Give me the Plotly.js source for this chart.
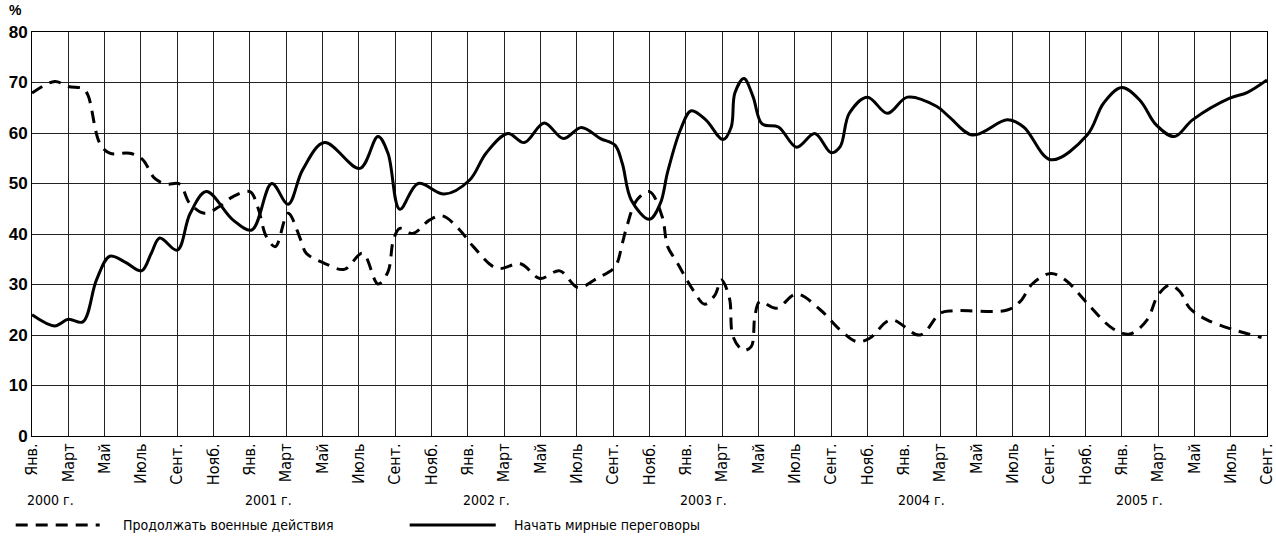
<!DOCTYPE html>
<html>
<head>
<meta charset="utf-8">
<script src="https://cdn.plot.ly/plotly-3.0.1.min.js"></script>
<style>html,body{margin:0;padding:0;background:#fff;}#chart{width:1276px;height:543px;}</style>
</head>
<body>
<div id="chart"></div>
<script>
// month index: 0 = Jan 2000 ... 68 = Sep 2005
var tickMonths = [0,2,4,6,8,10,12,14,16,18,20,22,24,26,28,30,32,34,36,38,40,42,44,46,48,50,52,54,56,58,60,62,64,66,68];
var tickLabels = ["Янв.","Март","Май","Июль","Сент.","Нояб.",
                  "Янв.","Март","Май","Июль","Сент.","Нояб.",
                  "Янв.","Март","Май","Июль","Сент.","Нояб.",
                  "Янв.","Март","Май","Июль","Сент.","Нояб.",
                  "Янв.","Март","Май","Июль","Сент.","Нояб.",
                  "Янв.","Март","Май","Июль","Сент."];
var yearLabels = ["2000 г.","2001 г.","2002 г.","2003 г.","2004 г.","2005 г."];
var yearMonths = [1,13,25,37,49,61];

var peaceName = "Начать мирные переговоры";
var peaceX = [0,1.25,2,2.8,3.55,4.28,5.1,6.03,6.57,7.03,8.0,8.7,9.6,11.06,12.1,13.2,14.1,14.9,16.1,18.05,19.05,19.6,20.25,21.26,22.7,24.1,25.0,26.2,27.1,28.2,29.25,30.25,31.3,32.1,32.5,33.0,34.0,34.6,35.0,35.7,36.3,37.1,38.05,38.5,38.7,39.2,39.7,40.2,41.1,42.1,43.1,44.0,44.5,45.0,46.0,47.1,48.2,49.8,50.5,51.8,53.7,54.6,56.1,58.1,59.0,60.0,61.0,61.9,62.9,63.9,65.95,66.9,68];
var peaceY = [24.0,21.8,23.1,22.6,30.9,35.6,34.5,32.7,36.2,39.2,36.8,44.0,48.4,42.8,40.8,50.0,45.9,52.7,58.1,53.0,59.3,56.0,44.9,50.0,47.9,50.7,56.0,59.9,58.1,62.0,58.9,61.1,58.9,57.6,54.0,46.7,42.9,46.1,52.3,60.6,64.4,62.6,58.7,61.2,67.9,70.8,67.2,61.8,61.2,57.2,59.9,56.1,57.3,63.9,67.1,63.9,67.1,65.3,63.2,59.6,62.6,61.2,54.7,59.6,65.9,69.0,66.5,61.6,59.3,62.6,66.9,68.0,70.5];

var warName = "Продолжать военные действия";
var warX = [0,1.25,2,2.8,3.08,3.73,4.28,5.38,6.08,6.76,7.4,8.13,8.68,9.5,10.3,11.07,12.0,12.45,12.9,13.4,14.1,14.8,15.1,16.1,17.2,18.2,19.05,19.6,19.9,20.25,20.97,21.9,22.6,23.55,24.3,25.6,26.9,27.96,29.06,30.07,31.1,32.1,32.5,32.7,33.3,34.0,34.7,35.0,35.5,36.4,37.04,37.6,37.96,38.4,38.6,39.15,39.6,39.8,40.07,40.99,42.1,43.4,44.5,45.4,46.1,47.3,48.9,50.0,50.7,53.7,54.4,55.1,56.1,56.9,58.1,59.5,60.45,61.4,62.0,62.65,63.2,63.75,64.7,66.2,67.7];
var warY = [67.9,70.2,69.2,68.8,67.5,58.0,56.0,56.0,54.8,51.0,49.9,49.9,46.1,44.1,45.4,47.4,48.4,45.1,39.5,37.5,44.1,38.8,36.2,34.2,33.0,36.2,30.1,32.5,38.8,41.1,40.1,42.8,43.6,40.8,37.5,33.2,34.1,31.2,32.7,29.4,31.2,33.5,38.1,40.8,46.7,48.4,43.4,37.5,34.5,28.9,26.1,27.9,30.9,27.3,19.7,17.0,17.7,23.6,26.6,25.3,28.1,25.0,21.0,18.7,19.3,23.0,20.0,24.3,24.8,24.95,26.6,30.2,32.2,30.9,26.3,21.3,20.2,23.0,27.9,29.9,28.6,25.3,23.0,21.0,19.5];

var COND = "'DejaVu Sans Condensed', 'Liberation Sans Narrow', 'Liberation Sans', sans-serif";
var SANS = "'Liberation Sans', Arial, sans-serif";

var traces = [
  {x: warX, y: warY, name: warName, mode: "lines", type: "scatter",
   line: {color: "#000", width: 3, dash: "12px,8px", shape: "spline", smoothing: 1}},
  {x: peaceX, y: peaceY, name: peaceName, mode: "lines", type: "scatter",
   line: {color: "#000", width: 3, shape: "spline", smoothing: 1}}
];

var annotations = [
  {text: "%", xref: "paper", yref: "paper", x: -0.013, y: 1.055, showarrow: false,
   xanchor: "center", yanchor: "middle", font: {family: SANS, size: 14, color: "#000", weight: 700}}
];
for (var i = 0; i < yearLabels.length; i++) {
  annotations.push({text: yearLabels[i], xref: "x", yref: "paper", x: yearMonths[i], y: -0.158,
    showarrow: false, xanchor: "center", yanchor: "middle",
    font: {family: COND, size: 14, color: "#000"}});
}
annotations.push({text: warName, xref: "paper", yref: "paper", x: 0.0719, y: -0.22,
  showarrow: false, xanchor: "left", yanchor: "middle", font: {family: COND, size: 14, color: "#000"}});
annotations.push({text: peaceName, xref: "paper", yref: "paper", x: 0.3884, y: -0.22,
  showarrow: false, xanchor: "left", yanchor: "middle", font: {family: COND, size: 14, color: "#000"}});

var shapes = [
  {type: "line", xref: "paper", yref: "paper", x0: -0.0132, x1: 0.0548, y0: -0.22, y1: -0.22,
   line: {color: "#000", width: 3, dash: "12px,8px"}},
  {type: "line", xref: "paper", yref: "paper", x0: 0.3058, x1: 0.3755, y0: -0.22, y1: -0.22,
   line: {color: "#000", width: 3}}
];

var layout = {
  width: 1276, height: 543,
  margin: {l: 32, r: 9, t: 32, b: 107},
  paper_bgcolor: "#fff", plot_bgcolor: "#fff",
  showlegend: false,
  font: {family: SANS, color: "#000"},
  xaxis: {range: [0, 68], tickmode: "array", tickvals: tickMonths, ticktext: tickLabels,
    tickangle: -90, ticklabeloverflow: "allow", showgrid: true, gridcolor: "#222", gridwidth: 1,
    showline: true, linecolor: "#000", linewidth: 1, mirror: true, zeroline: false,
    ticks: "", tickfont: {family: COND, size: 16, color: "#000"}},
  yaxis: {range: [0, 80], dtick: 10, tick0: 0, showgrid: true, gridcolor: "#222", gridwidth: 1,
    showline: true, linecolor: "#000", linewidth: 1, mirror: true, zeroline: false,
    ticks: "", tickfont: {family: SANS, size: 17, color: "#000", weight: 700}},
  annotations: annotations,
  shapes: shapes
};

Plotly.newPlot("chart", traces, layout, {staticPlot: true});
</script>
</body>
</html>
